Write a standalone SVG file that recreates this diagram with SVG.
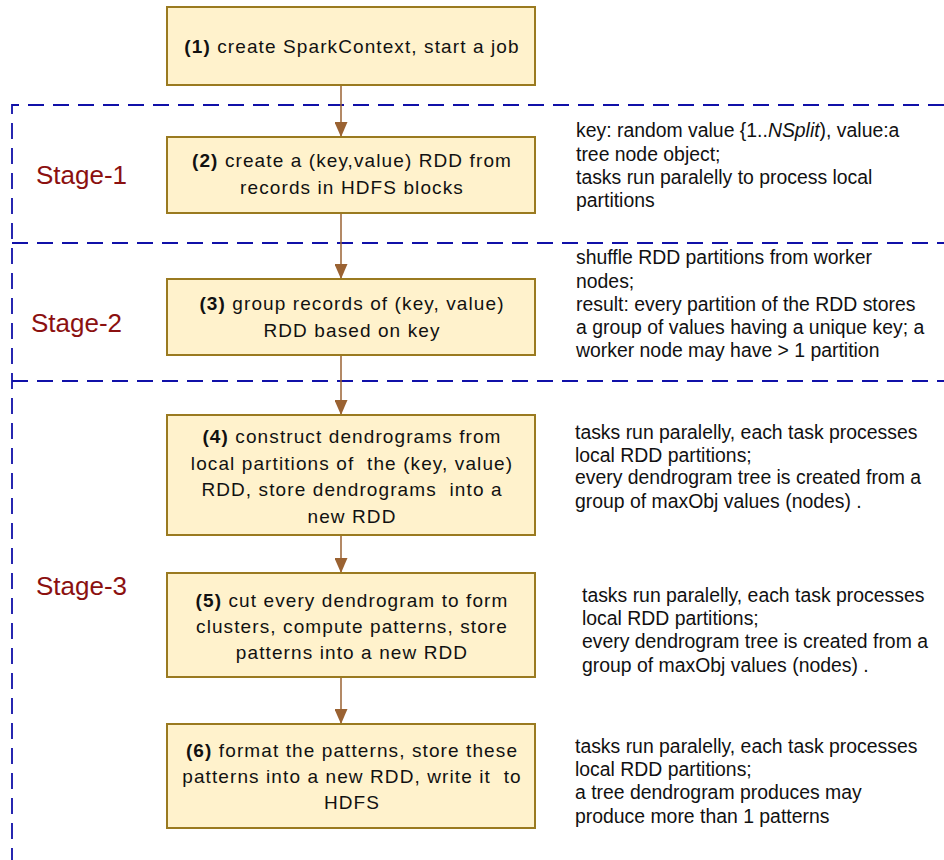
<svg xmlns="http://www.w3.org/2000/svg" width="944" height="860" viewBox="0 0 944 860">
<style>
.box{fill:#FFF2CC;stroke:#9A7A20;stroke-width:2}
.bt{font-family:"Liberation Sans",Arial,sans-serif;font-size:19px;letter-spacing:1.1px;fill:#111;text-anchor:middle;white-space:pre}
.bt tspan.b{font-weight:bold}
.note{font-family:"Liberation Sans",Arial,sans-serif;font-size:19.4px;fill:#111}
.stage{font-family:"Liberation Sans",Arial,sans-serif;font-size:26px;fill:#8B1010}
.dash{stroke:#1010A8;stroke-width:1.8;stroke-dasharray:16 9;fill:none}
.conn{stroke:#9A6232;stroke-width:1.5;fill:none}
</style>
<defs>
<marker id="arr" viewBox="0 0 15 13" refX="15" refY="6.5" markerWidth="15" markerHeight="13" orient="auto" markerUnits="userSpaceOnUse">
<path d="M0,0 L15,6.5 L0,13 Z" fill="#9A6232"/>
</marker>
</defs>
<g id="stages">
<path class="dash" d="M944,105 H12 V860"/>
<path class="dash" d="M12,243 H944"/>
<path class="dash" d="M12,381 H944"/>
<text class="stage" x="36" y="184">Stage-1</text>
<text class="stage" x="31" y="332">Stage-2</text>
<text class="stage" x="36" y="595">Stage-3</text>
</g>
<g id="connectors">
<line class="conn" x1="341" y1="86" x2="341" y2="137" marker-end="url(#arr)"/>
<line class="conn" x1="341" y1="214" x2="341" y2="279" marker-end="url(#arr)"/>
<line class="conn" x1="341" y1="356" x2="341" y2="415" marker-end="url(#arr)"/>
<line class="conn" x1="341" y1="536" x2="341" y2="573" marker-end="url(#arr)"/>
<line class="conn" x1="341" y1="678" x2="341" y2="724" marker-end="url(#arr)"/>
</g>
<g id="n1">
<rect class="box" x="167" y="7" width="368" height="78"/>
<text class="bt" x="352" y="53"><tspan class="b">(1)</tspan> create SparkContext, start a job</text>
</g>
<g id="n2">
<rect class="box" x="167" y="137" width="368" height="76"/>
<text class="bt" x="352" y="167"><tspan class="b">(2)</tspan> create a (key,value) RDD from</text>
<text class="bt" x="352" y="194">records in HDFS blocks</text>
</g>
<g id="n3">
<rect class="box" x="167" y="279" width="368" height="76"/>
<text class="bt" x="352" y="310"><tspan class="b">(3)</tspan> group records of (key, value)</text>
<text class="bt" x="352" y="337">RDD based on key</text>
</g>
<g id="n4">
<rect class="box" x="167" y="415" width="368" height="120"/>
<text class="bt" x="352" y="443"><tspan class="b">(4)</tspan> construct dendrograms from</text>
<text class="bt" x="352" y="470">local partitions of  the (key, value)</text>
<text class="bt" x="352" y="496">RDD, store dendrograms  into a</text>
<text class="bt" x="352" y="523">new RDD</text>
</g>
<g id="n5">
<rect class="box" x="167" y="573" width="368" height="104"/>
<text class="bt" x="352" y="607"><tspan class="b">(5)</tspan> cut every dendrogram to form</text>
<text class="bt" x="352" y="633">clusters, compute patterns, store</text>
<text class="bt" x="352" y="659">patterns into a new RDD</text>
</g>
<g id="n6">
<rect class="box" x="167" y="724" width="368" height="104"/>
<text class="bt" x="352" y="757"><tspan class="b">(6)</tspan> format the patterns, store these</text>
<text class="bt" x="352" y="783">patterns into a new RDD, write it  to</text>
<text class="bt" x="352" y="809">HDFS</text>
</g>
<g id="note1">
<text class="note" x="576" y="137">key: random value {1..<tspan font-style="italic">NSplit</tspan>), value:a</text>
<text class="note" x="576" y="161">tree node object;</text>
<text class="note" x="576" y="184">tasks run paralelly to process local</text>
<text class="note" x="576" y="207">partitions</text>
</g>
<g id="note2">
<text class="note" x="576" y="264">shuffle RDD partitions from worker</text>
<text class="note" x="576" y="288">nodes;</text>
<text class="note" x="576" y="311">result: every partition of the RDD stores</text>
<text class="note" x="576" y="334">a group of values having a unique key; a</text>
<text class="note" x="576" y="357">worker node may have &gt; 1 partition</text>
</g>
<g id="note3">
<text class="note" x="575" y="439">tasks run paralelly, each task processes</text>
<text class="note" x="575" y="462">local RDD partitions;</text>
<text class="note" x="575" y="484">every dendrogram tree is created from a</text>
<text class="note" x="575" y="508">group of maxObj values (nodes) .</text>
</g>
<g id="note4">
<text class="note" x="582" y="602">tasks run paralelly, each task processes</text>
<text class="note" x="582" y="625">local RDD partitions;</text>
<text class="note" x="582" y="648">every dendrogram tree is created from a</text>
<text class="note" x="582" y="672">group of maxObj values (nodes) .</text>
</g>
<g id="note5">
<text class="note" x="575" y="753">tasks run paralelly, each task processes</text>
<text class="note" x="575" y="776">local RDD partitions;</text>
<text class="note" x="575" y="799">a tree dendrogram produces may</text>
<text class="note" x="575" y="823">produce more than 1 patterns</text>
</g>
</svg>
